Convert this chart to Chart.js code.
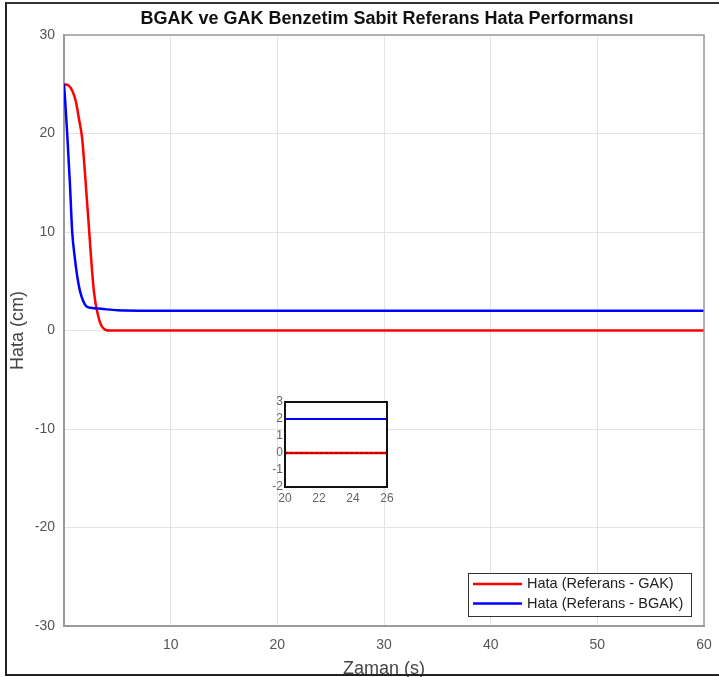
<!DOCTYPE html>
<html lang="tr">
<head>
  <meta charset="UTF-8" />
  <title>BGAK ve GAK Benzetim Sabit Referans Hata Performansı</title>
  <script src="https://cdn.jsdelivr.net/npm/chart.js"></script>
  <style>
    body {
      margin: 0;
      background: #fff;
      font-family: 'Liberation Sans', Arial, sans-serif;
    }
    #wrap {
      position: relative;
      width: 719px;
      height: 677px;
      overflow: hidden;
    }
    #frame {
      position: absolute;
      left: 5px;
      top: 2px;
      width: 760px;
      height: 670px;
      border-left: 2px solid #222;
      border-top: 2px solid #333;
      border-bottom: 2px solid #222;
      pointer-events: none;
    }
    #mainChart { position: absolute; left: 0; top: 0; }
    #insetChart { position: absolute; left: 250px; top: 392px; }
  </style>
</head>
<body>
  <div id="wrap">
    <canvas id="mainChart" width="719" height="677"></canvas>
    <canvas id="insetChart" width="145" height="120"></canvas>
    <div id="frame"></div>
  </div>

  <script>
    // values (time in s, error in cm)
    const timeGAK = [0, 0.4, 0.8, 1.1, 1.4, 1.7, 2.2, 2.8, 3.2, 3.5, 3.9, 4.3, 60];
    const errGAK  = [25, 24.9, 24.3, 23.3, 21.5, 19.5, 12.5, 4, 1.5, 0.5, 0.05, 0, 0];

    const timeBGAK = [0, 0.1, 0.3, 0.55, 0.77, 1.0, 1.24, 1.5, 1.8, 2.1, 2.5, 3.5, 5, 8, 60];
    const errBGAK  = [25, 23.5, 20, 15, 10, 7.5, 5.5, 4.0, 3.0, 2.45, 2.3, 2.2, 2.05, 2.0, 2.0];

    // zero reference shown dashed in the zoom box
    const timeRef = [0, 60];
    const errRef  = [0, 0];

    const labelGAK = 'Hata (Referans - GAK)';
    const labelBGAK = 'Hata (Referans - BGAK)';
    const chartTitle = 'BGAK ve GAK Benzetim Sabit Referans Hata Performansı';

    const xTicksMain = [0, 10, 20, 30, 40, 50, 60];
    const yTicksMain = [-30, -20, -10, 0, 10, 20, 30];
    const xTicksInset = [20, 22, 24, 26];
    const yTicksInset = [-2, -1, 0, 1, 2, 3];

    const RED = '#ff0000';
    const BLUE = '#0000ff';

    Chart.defaults.font.family = "'Liberation Sans', Arial, sans-serif";
    Chart.defaults.animation = false;

    function toPoints(xs, ys) {
      return xs.map((x, i) => ({ x: x, y: ys[i] }));
    }

    function fixedTicks(list) {
      return function(scale) {
        scale.ticks = list.map(v => ({ value: v }));
      };
    }

    // title centred over the plot area
    const titlePlugin = {
      id: 'plotTitle',
      afterDraw(chart) {
        const { ctx, chartArea } = chart;
        ctx.save();
        ctx.font = "bold 18px 'Liberation Sans', Arial, sans-serif";
        ctx.fillStyle = '#111';
        ctx.textAlign = 'center';
        ctx.textBaseline = 'middle';
        ctx.fillText(chartTitle, (chartArea.left + chartArea.right) / 2 + 3, 19);
        ctx.restore();
      }
    };

    // grey box round the axes
    const boxPlugin = {
      id: 'axBox',
      afterDatasetsDraw(chart) {
        const { ctx, chartArea: a } = chart;
        ctx.save();
        ctx.strokeStyle = '#9a9a9a';
        ctx.lineWidth = 1.5;
        ctx.beginPath();
        ctx.moveTo(a.left, a.top);
        ctx.lineTo(a.right, a.top);
        ctx.lineTo(a.right, a.bottom);
        ctx.stroke();
        ctx.restore();
      }
    };

    // legend in the lower right corner
    const legendPlugin = {
      id: 'cornerLegend',
      afterDraw(chart) {
        const { ctx, chartArea: a } = chart;
        const w = 223, h = 43;
        const x = a.right - 13 - w;
        const y = a.bottom - 10 - h;
        ctx.save();
        ctx.fillStyle = '#fff';
        ctx.fillRect(x, y, w, h);
        ctx.strokeStyle = '#333';
        ctx.lineWidth = 1;
        ctx.strokeRect(x + 0.5, y + 0.5, w, h);
        ctx.font = "14.5px 'Liberation Sans', Arial, sans-serif";
        ctx.textBaseline = 'middle';
        chart.data.datasets.forEach((ds, i) => {
          const ly = y + 11 + i * 19.5;
          ctx.strokeStyle = ds.borderColor;
          ctx.lineWidth = 2.5;
          ctx.beginPath();
          ctx.moveTo(x + 5, ly);
          ctx.lineTo(x + 54, ly);
          ctx.stroke();
          ctx.fillStyle = '#222';
          ctx.fillText(ds.label, x + 59, ly);
        });
        ctx.restore();
      }
    };

    const mainChart = new Chart(document.getElementById('mainChart'), {
      type: 'line',
      data: {
        datasets: [{
          label: labelGAK,
          data: toPoints(timeGAK, errGAK),
          borderColor: RED,
          borderWidth: 2.5,
          pointRadius: 0,
          cubicInterpolationMode: 'monotone',
          order: 2
        }, {
          label: labelBGAK,
          data: toPoints(timeBGAK, errBGAK),
          borderColor: BLUE,
          borderWidth: 2.5,
          pointRadius: 0,
          cubicInterpolationMode: 'monotone',
          order: 1
        }]
      },
      options: {
        responsive: false,
        layout: { padding: { top: 35, right: 15, bottom: 0, left: 0 } },
        plugins: { legend: { display: false }, tooltip: { enabled: false } },
        scales: {
          x: {
            type: 'linear',
            min: 0,
            max: 60,
            afterBuildTicks: fixedTicks(xTicksMain),
            afterFit(scale) {
              scale.height = 51;
              scale.paddingLeft = 0;
              scale.paddingRight = 0;
            },
            grid: { color: '#e4e4e4', drawTicks: false },
            border: { color: '#9a9a9a', width: 2 },
            ticks: {
              color: '#555',
              font: { size: 14 },
              padding: 11,
              maxRotation: 0,
              autoSkip: false,
              callback: v => v === 0 ? '' : v
            },
            title: {
              display: true,
              text: 'Zaman (s)',
              color: '#444',
              font: { size: 18 },
              padding: { top: 4, bottom: -3 }
            }
          },
          y: {
            type: 'linear',
            min: -30,
            max: 30,
            afterBuildTicks: fixedTicks(yTicksMain),
            afterFit(scale) {
              scale.width = 64;
              scale.paddingTop = 0;
              scale.paddingBottom = 0;
            },
            grid: { color: '#e4e4e4', drawTicks: false },
            border: { color: '#9a9a9a', width: 2 },
            ticks: {
              color: '#555',
              font: { size: 14 },
              padding: 9,
              autoSkip: false
            },
            title: {
              display: true,
              text: 'Hata (cm)',
              color: '#444',
              font: { size: 18 },
              padding: { top: 7, bottom: 4 }
            }
          }
        }
      },
      plugins: [titlePlugin, boxPlugin, legendPlugin]
    });

    // white plot area with black frame for the zoom box
    const insetFrame = {
      id: 'insetFrame',
      beforeDatasetsDraw(chart) {
        const { ctx, chartArea: a } = chart;
        ctx.save();
        ctx.fillStyle = '#fff';
        ctx.fillRect(a.left, a.top, a.right - a.left, a.bottom - a.top);
        ctx.restore();
      },
      afterDatasetsDraw(chart) {
        const { ctx, chartArea: a } = chart;
        ctx.save();
        ctx.strokeStyle = '#111';
        ctx.lineWidth = 2;
        ctx.strokeRect(a.left, a.top, a.right - a.left, a.bottom - a.top);
        ctx.restore();
      }
    };

    const insetChart = new Chart(document.getElementById('insetChart'), {
      type: 'line',
      data: {
        datasets: [{
          label: labelGAK,
          data: toPoints(timeGAK, errGAK),
          borderColor: RED,
          borderWidth: 2.5,
          pointRadius: 0,
          order: 3
        }, {
          label: labelBGAK,
          data: toPoints(timeBGAK, errBGAK),
          borderColor: BLUE,
          borderWidth: 2,
          pointRadius: 0,
          order: 2
        }, {
          label: 'Referans',
          data: toPoints(timeRef, errRef),
          borderColor: 'rgba(70, 0, 0, 0.85)',
          borderWidth: 1.2,
          borderDash: [3, 2],
          pointRadius: 0,
          order: 1
        }]
      },
      options: {
        responsive: false,
        layout: { padding: { top: 10, right: 8, bottom: 0, left: 0 } },
        plugins: { legend: { display: false }, tooltip: { enabled: false } },
        scales: {
          x: {
            type: 'linear',
            min: 20,
            max: 26,
            afterBuildTicks: fixedTicks(xTicksInset),
            afterFit(scale) {
              scale.height = 25;
              scale.paddingLeft = 0;
              scale.paddingRight = 0;
            },
            grid: { display: false, drawTicks: false },
            border: { display: false },
            ticks: { color: '#666', font: { size: 12 }, padding: 4, maxRotation: 0, autoSkip: false }
          },
          y: {
            type: 'linear',
            min: -2,
            max: 3,
            afterBuildTicks: fixedTicks(yTicksInset),
            afterFit(scale) {
              scale.width = 35;
              scale.paddingTop = 0;
              scale.paddingBottom = 0;
            },
            grid: { display: false, drawTicks: false },
            border: { display: false },
            ticks: { color: '#666', font: { size: 12 }, padding: 2, autoSkip: false }
          }
        }
      },
      plugins: [insetFrame]
    });
  </script>
</body>
</html>
